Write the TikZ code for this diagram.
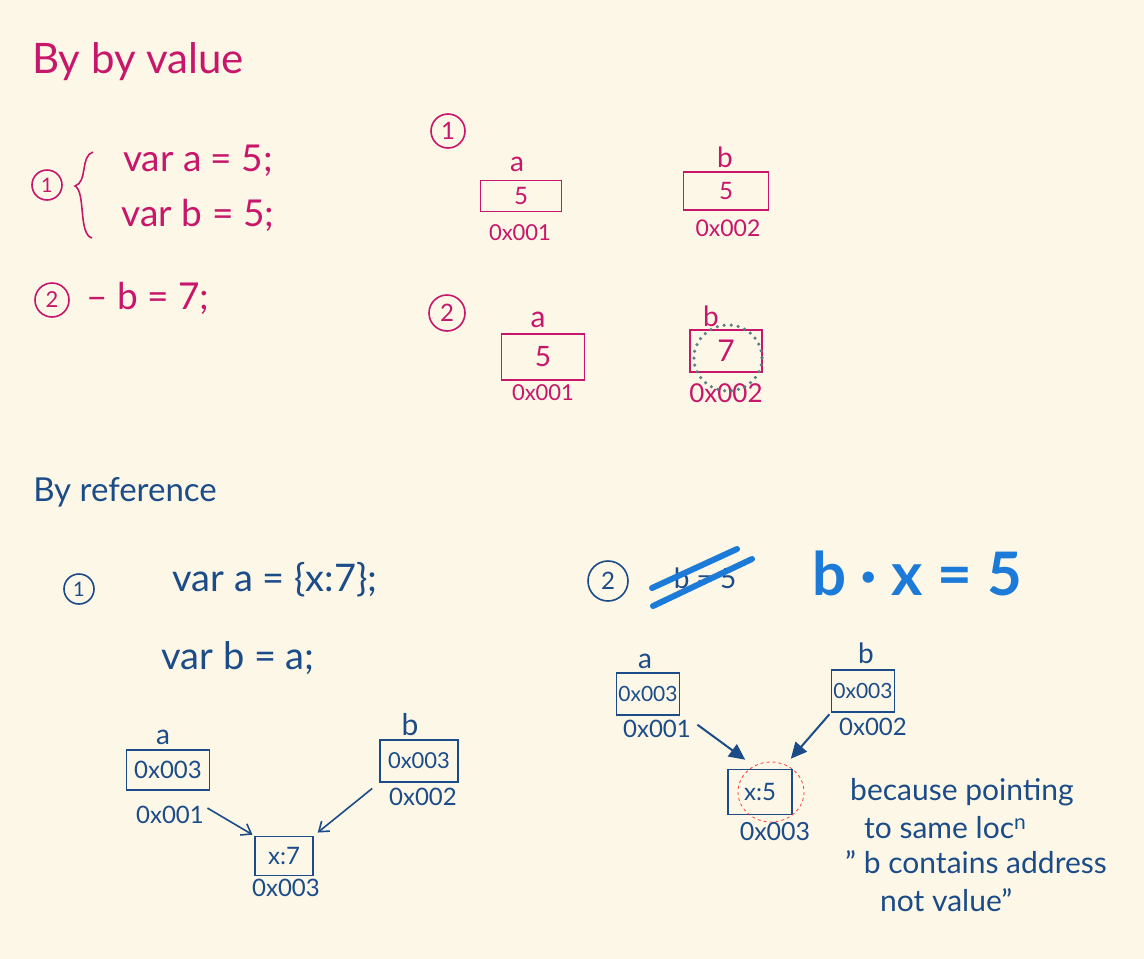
\documentclass[tikz,border=0pt]{standalone}
\usepackage{fontspec}
\setmainfont{Lato}
\usetikzlibrary{arrows.meta,calc}
\definecolor{bg}{HTML}{FCF7E7}
\definecolor{mag}{HTML}{C8176A}
\definecolor{dblue}{HTML}{1C4C88}
\definecolor{bblue}{HTML}{1C7AD8}
\begin{document}
\begin{tikzpicture}[x=1pt,y=-1pt,
  fs/.style={font=\fontsize{#1}{#1}\selectfont},
  txt/.style={inner sep=0pt},
  cell/.style={draw, line width=1.6pt, inner sep=0pt},
  num/.style={circle, draw, line width=1.6pt, inner sep=0pt, minimum size=#1},
  pink/.style={text=mag, draw=mag},
  navy/.style={text=dblue, draw=dblue},
  openarr/.style={dblue, line width=1.6pt, -{Straight Barb[length=9pt,width=13pt]}},
  fillarr/.style={dblue, line width=2pt, -{Triangle[length=16pt,width=15pt]}},
]
\fill[bg] (0,0) rectangle (1144,959);
\useasboundingbox (0,0) rectangle (1144,959);

% ---------------- By value ----------------
\node[txt, text=mag, fs=42] (tv) at (138,62) {By by value};
\node[num=30, pink, fs=20] (c1) at (47,185) {1};
\draw[mag, line width=1.6pt] (93,152) .. controls (80,156) and (88,182) .. (75,186) .. controls (86,192) and (78,234) .. (92,238);
\node[txt, text=mag, fs=37] (va) at (198,161) {var a = 5;};
\node[txt, text=mag, fs=37] (vb) at (198,215) {var b = 5;};
\node[num=34, pink, fs=22] (c2) at (52,300) {2};
\node[txt, text=mag, fs=37] (b7) at (148,298) {– b = 7;};

\node[num=34, pink, fs=24] (c3) at (448,131) {1};
\node[txt, text=mag, fs=28] (la1) at (517,164) {a};
\node[cell, pink, fs=24, minimum width=81, minimum height=31] (a1) at (521,196) {5};
\node[txt, text=mag, fs=22] (aa1) at (520,233) {0x001};
\node[txt, text=mag, fs=28] (lb1) at (725,157) {b};
\node[cell, pink, fs=24, minimum width=85, minimum height=38] (b1) at (726,191) {5};
\node[txt, text=mag, fs=23] (ab1) at (728,228) {0x002};

\node[num=36, pink, fs=24] (c4) at (447,313) {2};
\node[txt, text=mag, fs=30] (la2) at (538,320) {a};
\node[cell, pink, fs=28, minimum width=83, minimum height=46] (a2) at (543,357) {5};
\node[txt, text=mag, fs=22] (aa2) at (543,393) {0x001};
\node[txt, text=mag, fs=28] (lb2) at (711,316) {b};
\node[cell, pink, fs=30, minimum width=72, minimum height=42] (b2) at (726,351) {7};
\node[txt, text=mag, fs=26] (ab2) at (726,393) {0x002};
\draw[gray!70!teal, line width=3.5pt, line cap=round, dash pattern=on 0pt off 7pt] (728,358) ellipse [x radius=34, y radius=33];

% ---------------- By reference ----------------
\node[txt, text=dblue, fs=33] (tr) at (125,492) {By reference};
\node[num=30, navy, fs=20] (c5) at (79,589) {1};
\node[txt, text=dblue, fs=38] (ra) at (275,580) {var a = \{x:7\};};
\node[txt, text=dblue, fs=38] (rb) at (238,658) {var b = a;};

\node[txt, text=dblue, fs=28] (lra) at (163,737) {a};
\node[cell, navy, fs=24, minimum width=83, minimum height=40] (ba) at (168,770) {0x003};
\node[txt, text=dblue, fs=24] (aba) at (170,815) {0x001};
\node[txt, text=dblue, fs=30] (lrb) at (410,725) {b};
\node[cell, navy, fs=22, minimum width=78, minimum height=42] (bb) at (419,761) {0x003};
\node[txt, text=dblue, fs=24] (abb) at (423,797) {0x002};
\node[cell, navy, fs=24, minimum width=58, minimum height=39] (bx) at (284,856) {x:7};
\node[txt, text=dblue, fs=24] (abx) at (286,888) {0x003};
\draw[openarr, shorten <=4pt, shorten >=2pt] (aba.north east) -- (bx.north west);
\draw[openarr, shorten <=9pt, shorten >=5pt] (bb.south west) -- (bx.north east);

% ---------------- step 2 ----------------
\node[num=40, navy, fs=24] (c6) at (608,581) {2};
\node[txt, text=dblue, fs=28] (old) at (705,578) {b = 5};
\draw[bblue, line width=6pt, line cap=round] (652,588) -- (737,549);
\draw[bblue, line width=6pt, line cap=round] (653,606) -- (752,559);
\node[txt, text=bblue, font=\bfseries\fontsize{60}{60}\selectfont] (bx5) at (917,573) {b · x = 5};

\node[txt, text=dblue, fs=28] (lqa) at (645,661) {a};
\node[cell, navy, fs=21, minimum width=63, minimum height=42] (qa) at (648,694) {0x003};
\node[txt, text=dblue, fs=24] (aqa) at (657,729) {0x001};
\node[txt, text=dblue, fs=28] (lqb) at (866,653) {b};
\node[cell, navy, fs=21, minimum width=63, minimum height=42] (qb) at (863,691) {0x003};
\node[txt, text=dblue, fs=24] (aqb) at (873,727) {0x002};
\node[cell, navy, fs=24, minimum width=64, minimum height=45] (qx) at (760,792) {x:5};
\node[txt, text=dblue, fs=25] (aqx) at (775,832) {0x003};
\draw[red!75, dashed, line width=0.8pt] (771,792) ellipse [x radius=33, y radius=30];
\draw[fillarr, shorten <=8pt] (aqa.north east) -- ([xshift=18pt,yshift=9pt]qx.north west);
\draw[fillarr, shorten <=2pt] (qb.south west) -- ([xshift=-2pt,yshift=10pt]qx.north east);

\node[txt, text=dblue, fs=30, anchor=west] (n1) at (850,792) {because pointing};
\node[txt, text=dblue, fs=30, anchor=west] (n2) at (864,828) {to same loc\textsuperscript{n}};
\node[txt, text=dblue, fs=30, anchor=west] (n3) at (845,862) {" b contains address};
\node[txt, text=dblue, fs=30, anchor=west] (n4) at (880,900) {not value"};
\end{tikzpicture}
\end{document}
